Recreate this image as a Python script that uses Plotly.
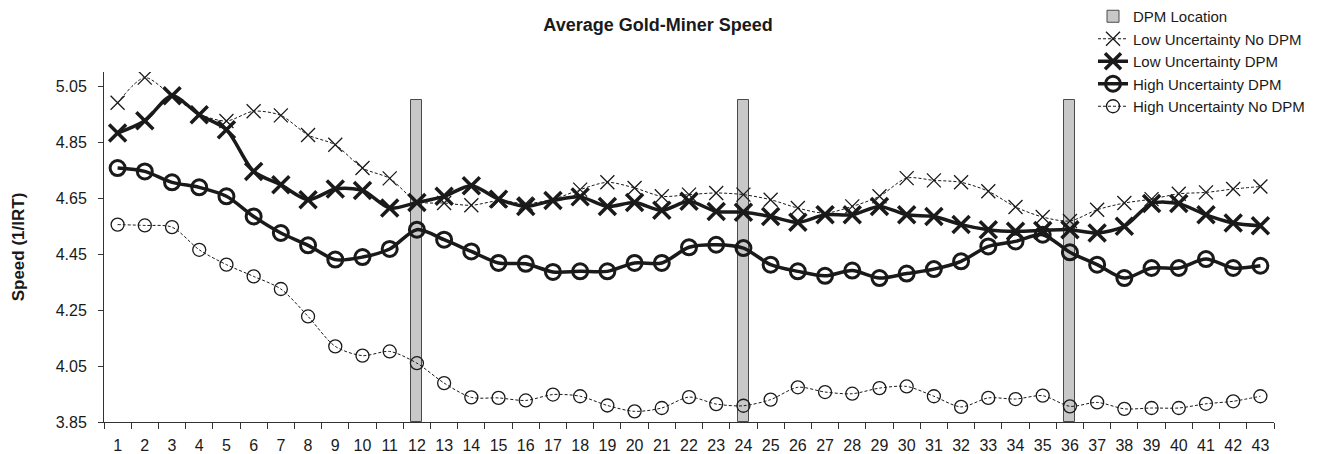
import plotly.graph_objects as go

sessions = [str(i) for i in range(1, 44)]
dpm_sessions = ["12", "24", "36"]
dpm_top = 5.0
y_min, y_max = 3.85, 5.10

low_no_dpm = [4.99, 5.08, 5.015, 4.95, 4.925, 4.96, 4.945, 4.875, 4.84, 4.757, 4.72,
              4.638, 4.632, 4.624, 4.64, 4.63, 4.645, 4.68, 4.706, 4.686, 4.656,
              4.662, 4.668, 4.662, 4.644, 4.614, 4.596, 4.62, 4.656, 4.721, 4.713,
              4.706, 4.674, 4.618, 4.582, 4.568, 4.608, 4.632, 4.646, 4.665, 4.67,
              4.682, 4.691]
low_dpm = [4.882, 4.926, 5.015, 4.947, 4.894, 4.745, 4.697, 4.644, 4.682, 4.677, 4.614,
           4.634, 4.656, 4.694, 4.646, 4.620, 4.641, 4.654, 4.620, 4.634, 4.606,
           4.638, 4.602, 4.599, 4.584, 4.563, 4.590, 4.590, 4.620, 4.590, 4.584,
           4.555, 4.537, 4.531, 4.534, 4.537, 4.525, 4.549, 4.630, 4.630, 4.590,
           4.561, 4.551]
high_dpm = [4.757, 4.745, 4.706, 4.688, 4.656, 4.584, 4.525, 4.481, 4.430, 4.439, 4.468,
            4.537, 4.501, 4.459, 4.418, 4.415, 4.386, 4.388, 4.388, 4.418, 4.418,
            4.474, 4.483, 4.471, 4.412, 4.388, 4.372, 4.391, 4.364, 4.380, 4.396,
            4.424, 4.477, 4.495, 4.519, 4.456, 4.412, 4.364, 4.400, 4.400, 4.432,
            4.400, 4.408]
high_no_dpm = [4.555, 4.552, 4.546, 4.465, 4.412, 4.370, 4.325, 4.227, 4.120, 4.087, 4.102,
               4.060, 3.989, 3.938, 3.936, 3.927, 3.948, 3.942, 3.909, 3.888, 3.900,
               3.939, 3.914, 3.908, 3.930, 3.974, 3.957, 3.951, 3.971, 3.977, 3.942,
               3.904, 3.936, 3.932, 3.944, 3.906, 3.920, 3.897, 3.900, 3.900, 3.915,
               3.924, 3.942]

INK = "#1a1a1a"
FONT = "Liberation Sans, Arial, sans-serif"

fig = go.Figure()

fig.add_trace(go.Bar(
    x=dpm_sessions, y=[dpm_top - y_min] * len(dpm_sessions), base=y_min,
    width=0.4, name="DPM Location",
    marker=dict(color="#c8c8c8", line=dict(color="#4a4a4a", width=1)),
))

fig.add_trace(go.Scatter(
    x=sessions, y=low_no_dpm, name="Low Uncertainty No DPM", mode="lines+markers",
    line=dict(color=INK, width=1, dash="3px,2px", shape="spline", smoothing=0.8),
    marker=dict(symbol="x-thin", size=14, line=dict(color=INK, width=1.3)),
))
fig.add_trace(go.Scatter(
    x=sessions, y=low_dpm, name="Low Uncertainty DPM", mode="lines+markers",
    line=dict(color=INK, width=3.5, shape="spline", smoothing=0.8),
    marker=dict(symbol="x-thin", size=17, line=dict(color=INK, width=3.5)),
))
fig.add_trace(go.Scatter(
    x=sessions, y=high_dpm, name="High Uncertainty DPM", mode="lines+markers",
    line=dict(color=INK, width=3.5, shape="spline", smoothing=0.8),
    marker=dict(symbol="circle-open", size=15, line=dict(color=INK, width=3)),
))
fig.add_trace(go.Scatter(
    x=sessions, y=high_no_dpm, name="High Uncertainty No DPM", mode="lines+markers",
    line=dict(color=INK, width=1, dash="3px,2px", shape="spline", smoothing=0.8),
    marker=dict(symbol="circle-open", size=13, line=dict(color=INK, width=1.3)),
))

fig.update_layout(
    width=1332, height=454,
    margin=dict(l=104, r=58, t=72, b=32, autoexpand=False),
    paper_bgcolor="white", plot_bgcolor="white",
    font=dict(family=FONT, size=16, color=INK),
    title=dict(text="<b>Average Gold-Miner Speed</b>", x=658 / 1332, xanchor="center",
               y=1 - 25 / 454, yanchor="middle", xref="container", yref="container",
               font=dict(size=18, family=FONT, color=INK)),
    showlegend=True,
    legend=dict(xref="container", yref="container", x=1093 / 1332, y=1.0,
                xanchor="left", yanchor="top",
                bgcolor="rgba(0,0,0,0)", font=dict(size=15, family=FONT, color=INK),
                traceorder="normal", tracegroupgap=0),
    bargap=0,
)

fig.update_xaxes(
    type="category", categoryorder="array", categoryarray=sessions,
    range=[-0.5, 42.5], showline=True, linecolor="#333", linewidth=1,
    ticks="outside", tickson="boundaries", ticklen=6, tickcolor="#333",
    ticklabelstandoff=9, automargin=False,
    showgrid=False, zeroline=False, tickfont=dict(size=16, family=FONT, color=INK),
)
fig.update_yaxes(
    range=[y_min, y_max], tick0=3.85, dtick=0.2, tickformat=".2f",
    showline=True, linecolor="#333", linewidth=1,
    ticks="outside", ticklen=5, tickcolor="#333", ticklabelstandoff=8,
    automargin=False,
    showgrid=False, zeroline=False, tickfont=dict(size=16, family=FONT, color=INK),
    title=dict(text="<b>Speed (1/IRT)</b>", font=dict(size=17, family=FONT, color=INK),
               standoff=26),
)

fig.write_html("out.html", config={"displayModeBar": False},
               post_script="document.body.style.margin='0';document.body.style.padding='0';")
